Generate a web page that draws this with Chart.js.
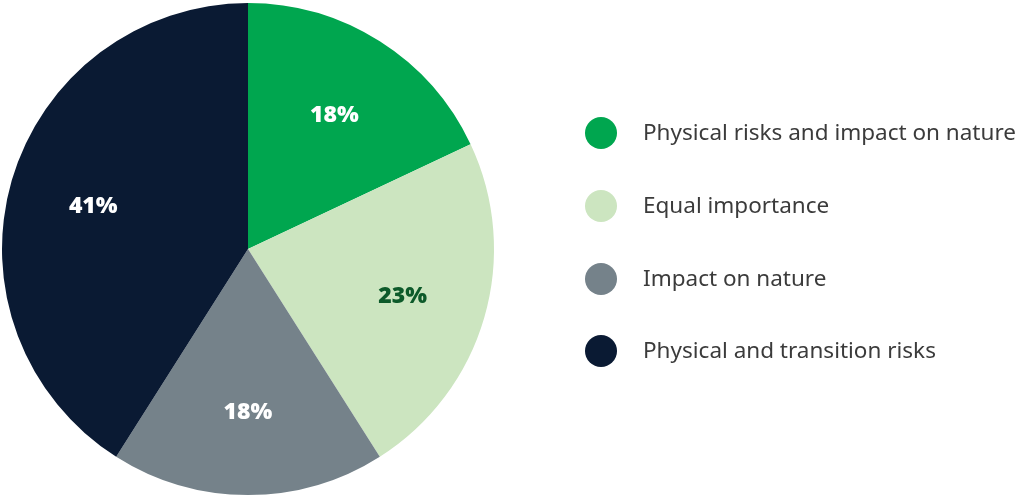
<!DOCTYPE html>
<html>
<head>
<meta charset="utf-8">
<script src="https://cdn.jsdelivr.net/npm/chart.js@4"></script>
<style>
  html, body { margin: 0; padding: 0; background: #ffffff; }
  #wrap { width: 1024px; height: 498px; position: relative; }
</style>
</head>
<body>
<div id="wrap"><canvas id="grafico"></canvas></div>
<script>
// dados do gráfico
const categorias = ['Physical risks and impact on nature', 'Equal importance', 'Impact on nature', 'Physical and transition risks'];
const valores = [18, 23, 18, 41];
const rotulos = ['18%', '23%', '18%', '41%'];
const cores = ['#00a64f', '#cce5c0', '#75828a', '#0a1a33'];
const coresRotulos = ['#ffffff', '#0d5a2a', '#ffffff', '#ffffff'];

// rótulos percentuais dentro das fatias
const rotulosPlugin = {
  id: 'rotulos',
  afterDatasetsDraw(chart) {
    const ctx = chart.ctx;
    const meta = chart.getDatasetMeta(0);
    ctx.save();
    ctx.font = '900 23px "Noto Sans", sans-serif';
    ctx.textAlign = 'center';
    ctx.textBaseline = 'middle';
    meta.data.forEach((arc, i) => {
      const meio = (arc.startAngle + arc.endAngle) / 2;
      const r = arc.outerRadius * 0.655;
      ctx.fillStyle = coresRotulos[i];
      ctx.fillText(rotulos[i], arc.x + Math.cos(meio) * r, arc.y + Math.sin(meio) * r + 2);
    });
    ctx.restore();
  }
};

// legenda à direita
const legendaPlugin = {
  id: 'legenda',
  afterDraw(chart) {
    const ctx = chart.ctx;
    const ys = [133, 206, 279, 351];
    ctx.save();
    ctx.font = '22.5px "Noto Sans", sans-serif';
    ctx.textBaseline = 'middle';
    categorias.forEach((nome, i) => {
      ctx.beginPath();
      ctx.arc(601, ys[i], 16, 0, Math.PI * 2);
      ctx.fillStyle = cores[i];
      ctx.fill();
      ctx.fillStyle = '#3b3b3b';
      ctx.fillText(nome, 643, ys[i] + 1);
    });
    ctx.restore();
  }
};

new Chart(document.getElementById('grafico'), {
  type: 'pie',
  data: {
    labels: categorias,
    datasets: [{ data: valores, backgroundColor: cores, borderWidth: 0 }]
  },
  options: {
    responsive: true,
    maintainAspectRatio: false,
    animation: false,
    layout: { padding: { left: 2, top: 3, right: 530, bottom: 3 } },
    plugins: { legend: { display: false }, tooltip: { enabled: false } }
  },
  plugins: [rotulosPlugin, legendaPlugin]
});
</script>
</body>
</html>
